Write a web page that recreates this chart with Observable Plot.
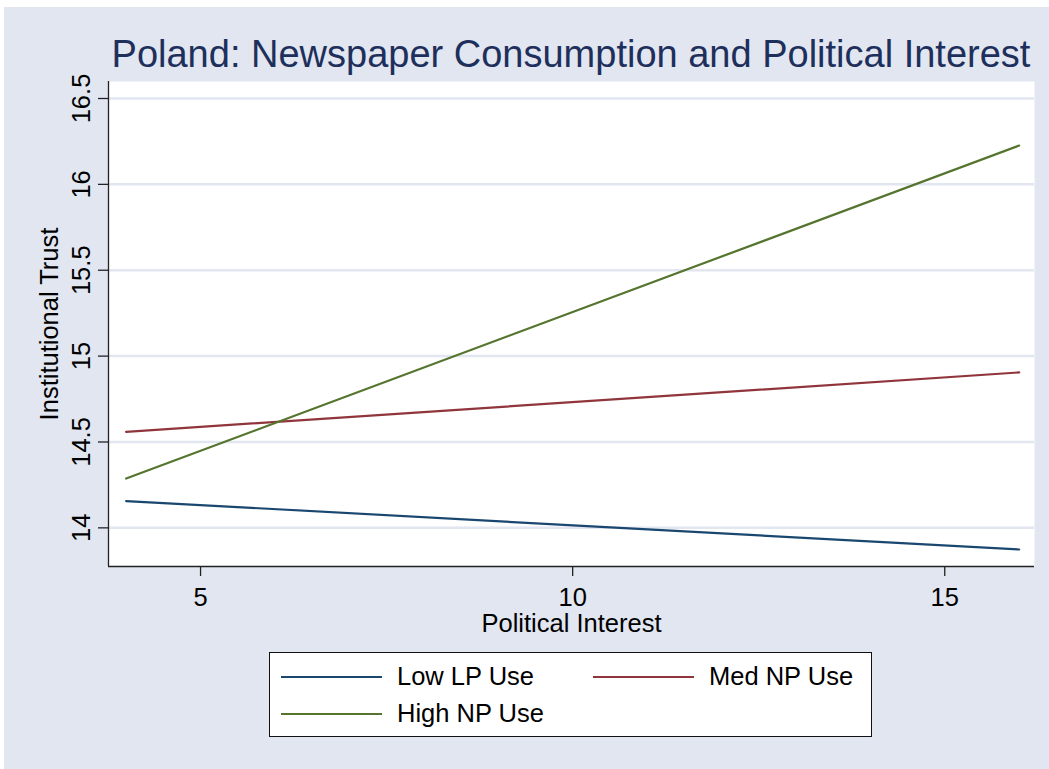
<!DOCTYPE html>
<html>
<head>
<meta charset="utf-8">
<script src="https://cdn.jsdelivr.net/npm/d3@7"></script>
<script src="https://cdn.jsdelivr.net/npm/@observablehq/plot@0.6"></script>
<style>
  html, body { margin: 0; padding: 0; background: #ffffff; }
  body { width: 1049px; height: 769px; position: relative; overflow: hidden; font-family: "Liberation Sans", Arial, sans-serif; }
  #bg { position: absolute; left: 4px; top: 7px; right: 0; bottom: 0; background: #e1e6f0; }
  #chart { position: absolute; left: 0; top: 0; }
  #title { position: absolute; left: 108px; width: 926px; top: 32px; text-align: center;
           font-size: 38px; line-height: 44px; color: #1e2f5c; white-space: nowrap; }
  #legend { position: absolute; left: 269px; top: 652px; width: 601px; height: 83px;
            background: #fff; border: 1.5px solid #111; }
  .item { position: absolute; height: 30px; display: flex; align-items: center;
          font-size: 25.5px; color: #000; white-space: nowrap; }
  .swatch { width: 101px; height: 0; border-top: 2px solid; margin-right: 15px; position: relative; top: 1px; }
</style>
</head>
<body>
<div id="bg"></div>
<div id="chart"></div>
<div id="title">Poland: Newspaper Consumption and Political Interest</div>
<div id="legend"></div>
<script>
// Predicted institutional trust at the ends of the political-interest range
const interest = [4, 16];
const lowLP  = [14.156, 13.874];
const medNP  = [14.559, 14.905];
const highNP = [14.287, 16.226];

const seriesNames  = ["Low LP Use", "Med NP Use", "High NP Use"];
const seriesColors = ["#1a476f", "#90353b", "#55752f"];
const seriesValues = [lowLP, medNP, highNP];

const xTicks = [5, 10, 15];
const yTicks = [14, 14.5, 15, 15.5, 16, 16.5];
const xDomain = [3.763, 16.206];
const yDomain = [13.775, 16.599];

const rows = seriesNames.flatMap((name, i) =>
  interest.map((x, j) => ({series: name, x, y: seriesValues[i][j]}))
);

const font = "Liberation Sans, Arial, sans-serif";

const chart = Plot.plot({
  width: 1049,
  height: 769,
  marginLeft: 108,
  marginRight: 15,
  marginTop: 81,
  marginBottom: 203,
  style: {background: "transparent", fontFamily: font, fontSize: "25.5px", color: "#000"},
  x: {domain: xDomain},
  y: {domain: yDomain},
  color: {domain: seriesNames, range: seriesColors},
  marks: [
    Plot.frame({fill: "white", stroke: "none"}),
    Plot.gridY(yTicks, {stroke: "#e1e6f0", strokeOpacity: 1, strokeWidth: 2.5}),
    Plot.ruleX([xDomain[0]], {stroke: "#222", strokeWidth: 1.3}),
    Plot.ruleY([yDomain[0]], {stroke: "#222", strokeWidth: 1.3}),
    // y ticks drawn by the axis; its labels are set upright-rotated below
    Plot.axisY(yTicks, {tickSize: 10, tickFormat: () => "", label: null, stroke: "#222", strokeWidth: 1.3}),
    Plot.text(yTicks, {
      y: d => d, text: d => String(d), frameAnchor: "left", dx: -27,
      rotate: -90, textAnchor: "middle", lineAnchor: "middle", fontSize: 25.5, fill: "#000"
    }),
    Plot.axisX(xTicks, {tickSize: 10, tickPadding: 11, fontSize: 25.5, label: null, stroke: "#222", strokeWidth: 1.3, fill: "#000"}),
    Plot.text(["Institutional Trust"], {
      frameAnchor: "left", dx: -59, rotate: -90, textAnchor: "middle", lineAnchor: "middle", fontSize: 25.5, fill: "#000"
    }),
    Plot.text(["Political Interest"], {
      frameAnchor: "bottom", dy: 57, textAnchor: "middle", lineAnchor: "middle", fontSize: 25.5, fill: "#000"
    }),
    Plot.line(rows, {x: "x", y: "y", z: "series", stroke: "series", strokeWidth: 2.2})
  ]
});
document.getElementById("chart").appendChild(chart);

// Legend: two columns, filled row by row
const legend = document.getElementById("legend");
const slots = [{left: 11, top: 8}, {left: 323, top: 8}, {left: 11, top: 45}];
seriesNames.forEach((name, i) => {
  const item = document.createElement("div");
  item.className = "item";
  item.style.left = slots[i].left + "px";
  item.style.top = slots[i].top + "px";
  const sw = document.createElement("span");
  sw.className = "swatch";
  sw.style.borderTopColor = seriesColors[i];
  const label = document.createElement("span");
  label.textContent = name;
  item.appendChild(sw);
  item.appendChild(label);
  legend.appendChild(item);
});
</script>
</body>
</html>
